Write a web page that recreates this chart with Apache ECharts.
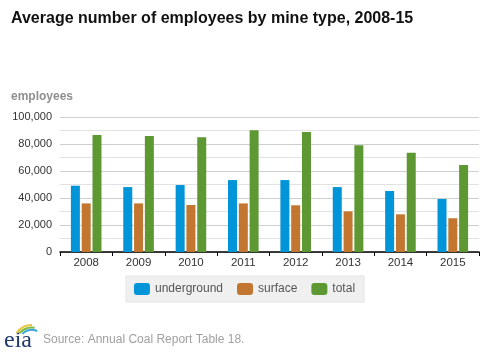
<!DOCTYPE html>
<html>
<head>
<meta charset="utf-8">
<script src="https://cdn.jsdelivr.net/npm/echarts@6/dist/echarts.min.js"></script>
<style>html,body{margin:0;padding:0;background:#fff}#main{width:489px;height:354px}</style>
</head>
<body>
<div id="main"></div>
<script>
const years = ["2008","2009","2010","2011","2012","2013","2014","2015"];
const underground = [49100, 48100, 49600, 53300, 53300, 48100, 45200, 39300];
const surface = [36000, 36000, 34800, 36000, 34600, 30100, 27900, 25000];
const total = [86700, 85900, 85000, 90100, 88900, 79000, 73600, 64400];

const chart = echarts.init(document.getElementById("main"));
const bar = (name, data, color) => ({
  name, type: "bar", data, barWidth: 9, barGap: "20%",
  itemStyle: { color }, emphasis: { disabled: true }
});
chart.setOption({
  animation: false,
  textStyle: { fontFamily: "Liberation Sans, Arial, sans-serif" },
  title: {
    text: "Average number of employees by mine type, 2008-15",
    left: 11, top: 11, padding: 0,
    textStyle: { fontSize: 16, fontWeight: "bold", color: "#111" }
  },
  legend: {
    data: ["underground","surface","total"],
    left: "center", top: 276,
    itemWidth: 16, itemHeight: 12, itemGap: 14,
    padding: [7, 9, 7, 8],
    backgroundColor: "#f0f0f0", borderColor: "#e4e4e4", borderWidth: 1,
    icon: "roundRect",
    textStyle: { fontSize: 12, color: "#555" }
  },
  grid: { left: 60, right: 10, top: 117, bottom: 102 },
  xAxis: {
    type: "category", data: years,
    axisLine: { lineStyle: { color: "#000", width: 1.5 } },
    axisTick: { show: true, length: 4, lineStyle: { color: "#000" } },
    axisLabel: { fontSize: 11.5, color: "#333", margin: 5 }
  },
  yAxis: {
    type: "value", min: 0, max: 100000, interval: 20000,
    axisLine: { show: false }, axisTick: { show: false },
    axisLabel: { fontSize: 11, color: "#333", margin: 8,
      formatter: v => v.toLocaleString("en-US") },
    splitLine: { lineStyle: { color: "#cfcfcf" } },
    minorTick: { show: false, splitNumber: 2 },
    minorSplitLine: { show: true, lineStyle: { color: "#e2e2e2" } }
  },
  series: [
    bar("underground", underground, "#0095d8"),
    bar("surface", surface, "#c3762f"),
    bar("total", total, "#5d9833")
  ],
  graphic: [
    { type: "text", left: 11, top: 91,
      style: { text: "employees", fontSize: 12, fontWeight: "bold", fill: "#8f8f8f",
        fontFamily: "Liberation Sans, Arial, sans-serif" } },
    { type: "text", left: 43, top: 334,
      style: { text: "Source: Annual Coal Report Table 18.", fontSize: 12, fill: "#a0a0a0",
        fontFamily: "Liberation Sans, Arial, sans-serif" } },
    { type: "text", left: 4, top: 329,
      style: { text: "eia", fontSize: 24, fill: "#1f3a68", fontFamily: "Liberation Serif, serif" } },
    { type: "arc", shape: { cx: 32, cy: 344, r: 19, startAngle: Math.PI * 1.2, endAngle: Math.PI * 1.5 },
      style: { stroke: "#e8c53a", lineWidth: 2, fill: null } },
    { type: "arc", shape: { cx: 32, cy: 344, r: 16.5, startAngle: Math.PI * 1.22, endAngle: Math.PI * 1.55 },
      style: { stroke: "#7dbb42", lineWidth: 2, fill: null } },
    { type: "arc", shape: { cx: 32, cy: 344, r: 14, startAngle: Math.PI * 1.26, endAngle: Math.PI * 1.62 },
      style: { stroke: "#3ba3d8", lineWidth: 2, fill: null } }
  ]
});
</script>
</body>
</html>
